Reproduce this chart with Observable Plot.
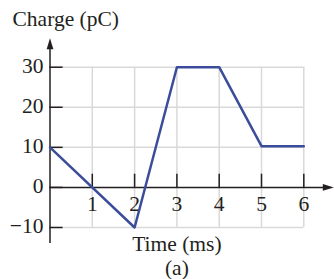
<!DOCTYPE html>
<html><head><meta charset="utf-8">
<script src="https://cdn.jsdelivr.net/npm/d3@7"></script>
<script src="https://cdn.jsdelivr.net/npm/@observablehq/plot@0.6"></script>
<style>html,body{margin:0;padding:0;background:#fff}#chart svg{display:block}</style>
</head><body><div id="chart"></div>
<script>
// Data
const timeMs = [0, 2, 3, 4, 5, 6];
const chargePC = [10, -10, 30, 30, 10.3, 10.3];
const xTicks = [1, 2, 3, 4, 5, 6];
const xTickLabels = ["1", "2", "3", "4", "5", "6"];
const yTicks = [-10, 0, 10, 20, 30];
const yTickLabels = ["\u221210", "0", "10", "20", "30"];
const yGrid = [-10, 10, 20, 30];
const yAxisLabel = "Charge (pC)";
const xAxisLabel = "Time (ms)";
const caption = "(a)";

const pts = timeMs.map((t, i) => ({t, q: chargePC[i]}));
const font = "'Liberation Serif', 'Times New Roman', serif";
const ink = "#231f20";
const fs = 21.5;

const upHead = {draw(ctx) { ctx.moveTo(0, 0); ctx.lineTo(3.4, 11); ctx.lineTo(-3.4, 11); ctx.closePath(); }};
const rightHead = {draw(ctx) { ctx.moveTo(0, 0); ctx.lineTo(-11, 3.4); ctx.lineTo(-11, -3.4); ctx.closePath(); }};

const chart = Plot.plot({
  width: 334, height: 279,
  marginLeft: 49.5, marginRight: 30.7, marginTop: 66.7, marginBottom: 52,
  x: {domain: [0, 6], axis: null},
  y: {domain: [-10, 30], axis: null},
  style: {fontFamily: font, fontSize: fs + "px", background: "#fff"},
  marks: [
    Plot.ruleX(xTicks, {y1: -10, y2: 30, stroke: "#d9d9d9", strokeWidth: 1.5}),
    Plot.ruleY(yGrid, {x1: 0, x2: 6, stroke: "#d9d9d9", strokeWidth: 1.5}),
    // axes
    Plot.ruleX([0], {y1: -14, y2: 36, stroke: ink, strokeWidth: 1.5}),
    Plot.ruleY([0], {x1: 0, x2: 6.5, stroke: ink, strokeWidth: 1.5}),
    Plot.dot([{x: 0, y: 37.2}], {x: "x", y: "y", symbol: upHead, fill: ink, stroke: "none"}),
    Plot.dot([{x: 6.71, y: 0}], {x: "x", y: "y", symbol: rightHead, fill: ink, stroke: "none"}),
    // ticks
    Plot.ruleY(yTicks, {x1: 0, x2: 0.31, stroke: ink, strokeWidth: 1.5}),
    Plot.ruleX(xTicks, {y1: 0, y2: 3.3, stroke: ink, strokeWidth: 1.5}),
    // tick labels
    Plot.text(yTicks, {x: 0, y: d => d, text: (d, i) => yTickLabels[i], textAnchor: "end", lineAnchor: "middle", dx: -6.5, dy: -1, fill: ink, fontSize: fs}),
    Plot.text(xTicks, {x: d => d, y: 0, text: (d, i) => xTickLabels[i], textAnchor: "middle", lineAnchor: "bottom", dy: 23.5, fill: ink, fontSize: fs}),
    // data line
    Plot.line(pts, {x: "t", y: "q", stroke: "#3b4d9a", strokeWidth: 2.5}),
    // labels
    Plot.text([yAxisLabel], {frameAnchor: "top-left", text: d => d, textAnchor: "start", lineAnchor: "bottom", dx: -37.5, dy: -40.7, fill: ink, fontSize: fs}),
    Plot.text([xAxisLabel], {frameAnchor: "bottom", text: d => d, textAnchor: "middle", lineAnchor: "bottom", dy: 23, fill: ink, fontSize: fs}),
    Plot.text([caption], {frameAnchor: "bottom", text: d => d, textAnchor: "middle", lineAnchor: "bottom", dy: 47.5, fill: ink, fontSize: fs})
  ]
});
document.getElementById("chart").appendChild(chart);
</script>
</body></html>
